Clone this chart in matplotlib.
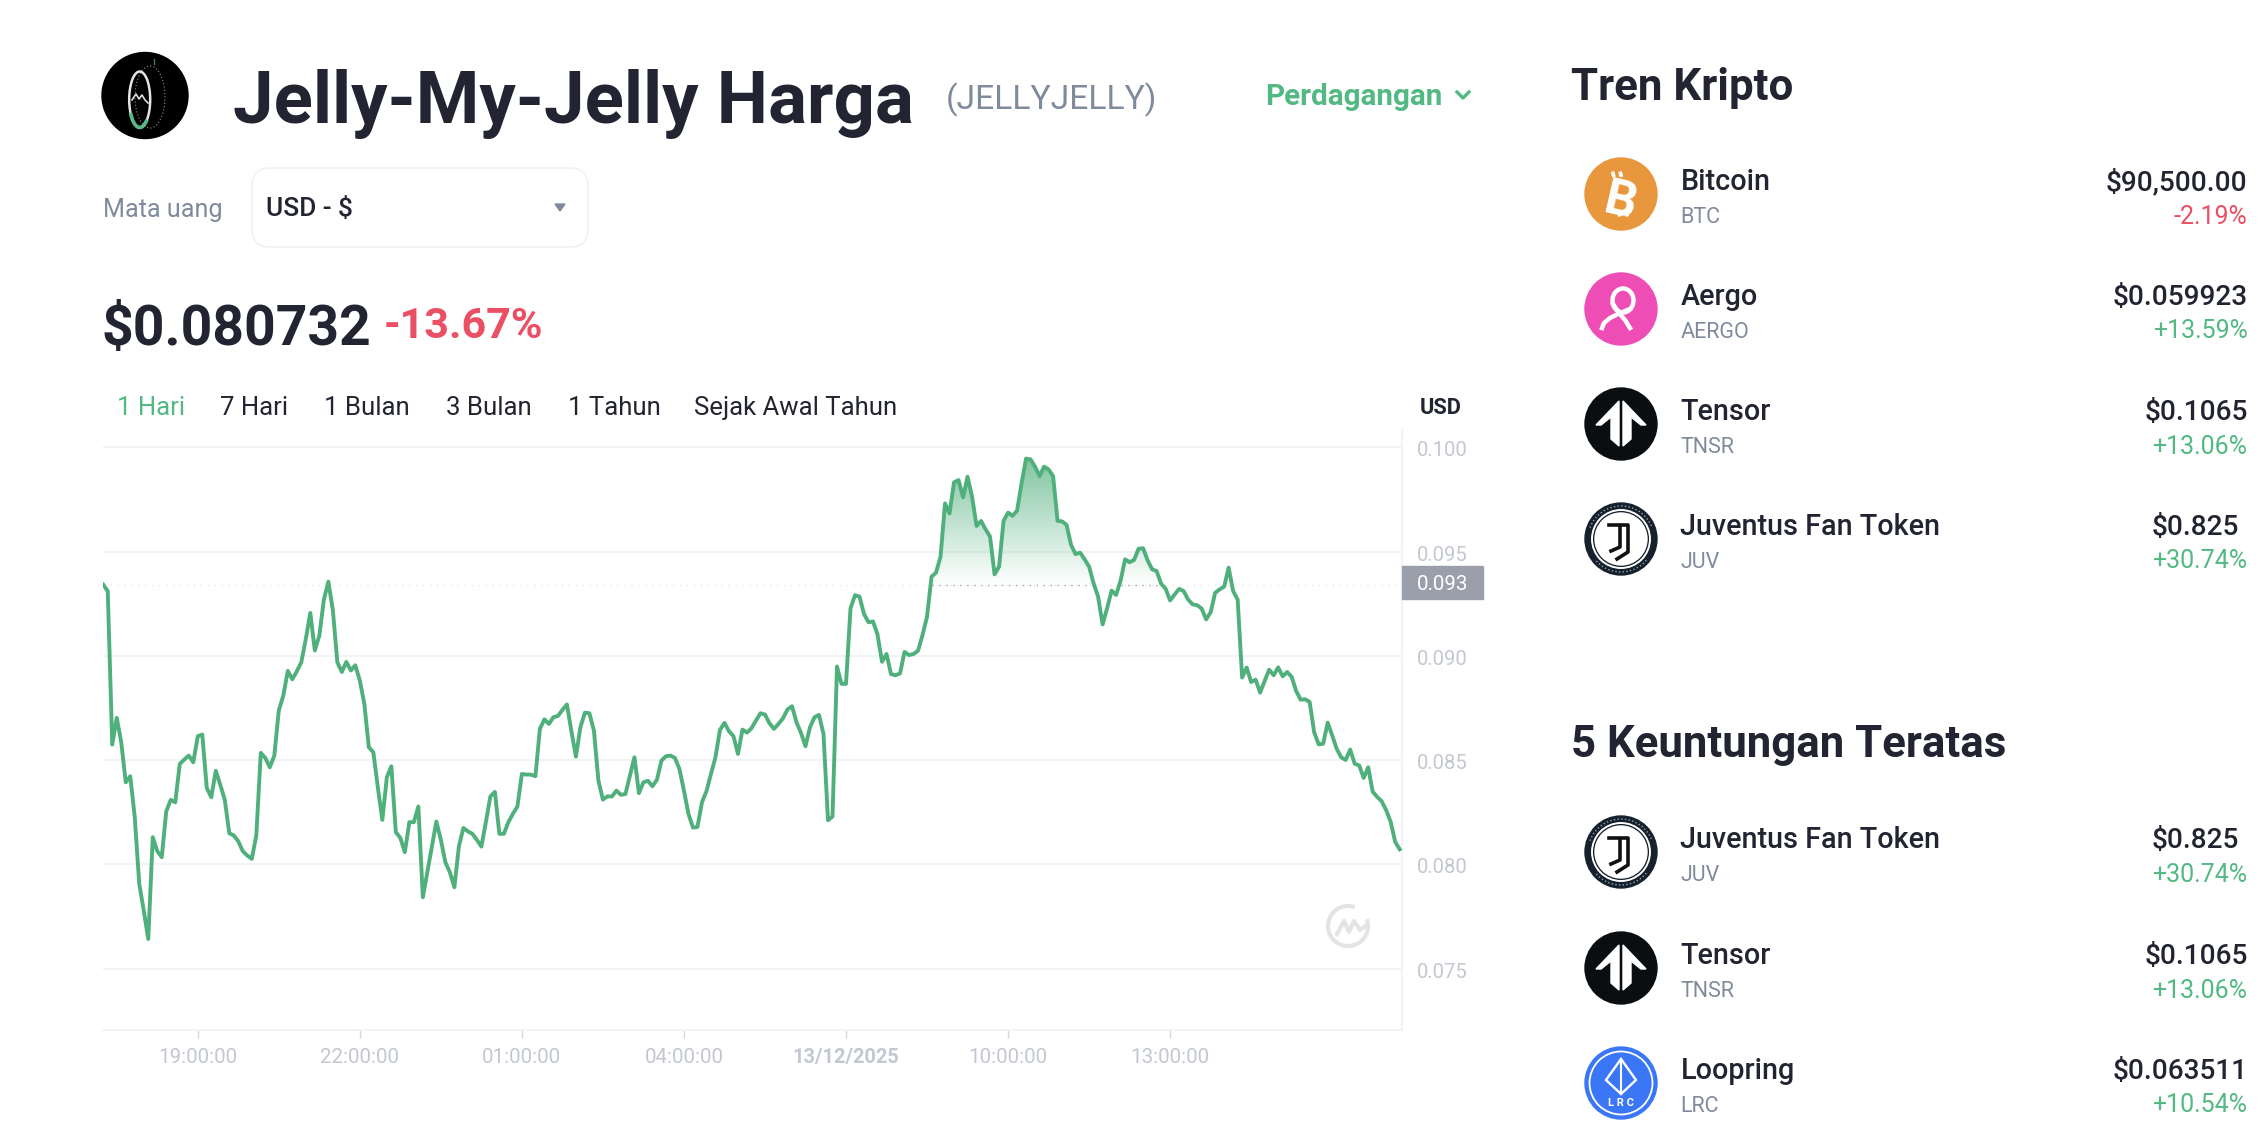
import numpy as np
import matplotlib
matplotlib.use("Agg")
import matplotlib.pyplot as plt
from matplotlib.patches import Circle, FancyBboxPatch, Polygon, Ellipse, Arc
from matplotlib.path import Path
from matplotlib.transforms import ScaledTranslation

plt.rcParams['font.family'] = ['Roboto', 'DejaVu Sans']

# ---- data ----
prices = np.array([
 9342,9310,8575,8703,8586,8394,8423,8227,7907,7779,7643,8131,8064,8035,8255,8310,8298,8482,8503,8522,8490,8615,8623,8367,8322,8449,8382,8310,8150,8139,8111,8064,8043,8027,8139,8535,8511,8466,8522,8738,8810,8928,8888,8926,8970,9081,9206,9026,9097,9268,9356,9221,8970,8923,8971,8930,8955,8882,
 8770,8562,8538,8370,8214,8418,8471,8155,8127,8059,8203,8203,8278,7843,7963,8083,8206,8118,8011,7963,7891,8086,8175,8159,8147,8118,8086,8203,8326,8348,8147,8147,8203,8243,8278,8434,8431,8431,8423,8650,8696,8674,8706,8712,8741,8767,8639,8517,8658,8728,8725,8642,8402,8311,8327,8326,8354,8334,
 8338,8426,8514,8342,8394,8401,8375,8406,8498,8519,8522,8511,8458,8354,8243,8177,8180,8298,8351,8434,8514,8645,8679,8639,8615,8530,8647,8632,8653,8690,8725,8719,8677,8650,8674,8701,8743,8759,8682,8631,8567,8658,8706,8717,8626,8212,8230,8949,8866,8866,9228,9291,9284,9201,9161,9165,9102,
 8972,9009,8913,8907,8916,9019,9004,9009,9025,9100,9188,9380,9399,9476,9731,9683,9832,9843,9760,9859,9763,9623,9647,9607,9572,9391,9428,9647,9687,9672,9696,9827,9946,9942,9907,9862,9907,9894,9862,9647,9645,9628,9532,9488,9495,9463,9428,9348,9284,9151,9228,9313,9292,9361,9463,9449,9460,9514,
 9516,9458,9415,9407,9346,9322,9266,9294,9321,9311,9270,9247,9243,9227,9175,9209,9302,9319,9332,9423,9311,9270,8896,8944,8875,8886,8824,8880,8934,8907,8945,8902,8923,8899,8832,8790,8792,8779,8634,8576,8579,8680,8619,8555,8514,8501,8551,8483,8475,8415,8466,8349,8324,8303,8260,8204,8108,8073,
]) / 1e5
start_hour = -1.75          # first sample, hours relative to 19:00
step_minutes = 5
hours = start_hour + np.arange(len(prices)) * step_minutes / 60
baseline = prices[0]

y_ticks = [0.100, 0.095, 0.090, 0.085, 0.080, 0.075]
x_ticks = [0, 3, 6, 9, 12, 15, 18]
x_labels = ['19:00:00', '22:00:00', '01:00:00', '04:00:00', '13/12/2025', '10:00:00', '13:00:00']
tabs = ['1 Hari', '7 Hari', '1 Bulan', '3 Bulan', '1 Tahun', 'Sejak Awal Tahun']
tab_x = [117, 220, 324, 446, 568, 694]

trend = [('Bitcoin', 'BTC', '$90,500.00', '-2.19%'),
         ('Aergo', 'AERGO', '$0.059923', '+13.59%'),
         ('Tensor', 'TNSR', '$0.1065', '+13.06%'),
         ('Juventus Fan Token', 'JUV', '$0.825', '+30.74%')]
gainers = [('Juventus Fan Token', 'JUV', '$0.825', '+30.74%'),
           ('Tensor', 'TNSR', '$0.1065', '+13.06%'),
           ('Loopring', 'LRC', '$0.063511', '+10.54%')]

# ---- colours ----
DARK = '#222531'; GREY = '#808A9D'; GREEN = '#53B983'; RED = '#EA4F63'
LINE = '#4FB07C'; GRID = '#EFF2F5'; AXT = '#C3C7D0'

W, H = 2268, 1136
fig = plt.figure(figsize=(W/100, H/100), dpi=100, facecolor='white')

# ---- chart ----
L, R, T, B = 102.7, 1401.5, 430, 1030
ax = fig.add_axes([L/W, 1-B/H, (R-L)/W, (B-T)/H])
ax.set_facecolor('none')
px_per_unit = 20860
ax.set_ylim(0.100-(B-447.3)/px_per_unit, 0.100+(447.3-T)/px_per_unit)
ax.set_xlim(start_hour-0.01, start_hour+(R-L-1)/54)
xl, yl = ax.get_xlim(), ax.get_ylim()

poly = ax.fill_between(hours, baseline, prices, where=prices > baseline, interpolate=True,
                       facecolor='none', edgecolor='none')
clip = Path.make_compound_path(*poly.get_paths())
grad = np.zeros((256, 1, 4))
grad[..., 0] = 0.31; grad[..., 1] = 0.69; grad[..., 2] = 0.49
grad[:, 0, 3] = np.linspace(0.72, 0.0, 256)
im = ax.imshow(grad, extent=(hours[0], hours[-1], baseline, prices.max()), origin='upper',
               aspect='auto', zorder=2, interpolation='bilinear')
im.set_clip_path(clip, ax.transData)

ax.plot(hours, prices, color=LINE, lw=2.8, zorder=4, solid_joinstyle='round')
ax.axhline(baseline, color='#E4E6EA', lw=1, dashes=(1, 4), zorder=1)
ax.plot(hours, np.where(prices > baseline, baseline, np.nan), color='#9A9FAB', lw=1,
        dashes=(1, 4), zorder=3)
ax.set_xlim(xl); ax.set_ylim(yl)

for s in ['top', 'left']:
    ax.spines[s].set_visible(False)
for s in ['right', 'bottom']:
    ax.spines[s].set_color(GRID); ax.spines[s].set_linewidth(1.2)
ax.set_yticks(y_ticks)
ax.set_yticklabels([f'{v:.3f}' for v in y_ticks])
ax.yaxis.tick_right()
ax.tick_params(axis='y', length=0, pad=11, labelsize=14.6, labelcolor=AXT)
ax.set_xticks(x_ticks)
ax.set_xticklabels(x_labels)
ax.tick_params(axis='x', length=6, width=1, color='#D5D9E0', pad=7, labelsize=14.8, labelcolor=AXT)
shift = ScaledTranslation(0, -1.5/100, fig.dpi_scale_trans)
for lab in ax.get_yticklabels():
    lab.set_transform(lab.get_transform() + shift)
for lab in ax.get_xticklabels():
    if '/' in lab.get_text():
        lab.set_fontweight('bold')
        lab.set_fontsize(14.4)
ax.grid(axis='y', color=GRID, lw=1.2, zorder=0)
ax.set_axisbelow(True)

# ---- page overlay in pixel coordinates ----
pg = fig.add_axes([0, 0, 1, 1], facecolor='none')
pg.set_xlim(0, W); pg.set_ylim(H, 0); pg.axis('off')

def T_(x, y, s, size, color=DARK, weight='normal', ha='left', va='baseline', **kw):
    return pg.text(x, y, s, fontsize=size, color=color, fontweight=weight, ha=ha, va=va, **kw)

# header
pg.add_patch(Circle((145, 95.5), 43, color='#000000', zorder=2))
pg.add_patch(Ellipse((139.7, 99.5), 21, 56, fill=False, ec='#E4E4E4', lw=1.8, zorder=3))
pg.add_patch(Ellipse((150, 97), 30, 62, fill=False, ec='#777777', lw=0.9, ls=':', zorder=2.5))
pg.plot([132, 136, 139, 142, 145, 148], [100, 94, 99, 95, 100, 103], color='#DDDDDD', lw=1.2, zorder=3)
pg.add_patch(Arc((139.7, 99.5), 21, 56, theta1=70, theta2=125, color='#59B98A', lw=2.6, zorder=4))
pg.plot([153.5, 153.5], [59, 64], color='#3F7F66', lw=1, zorder=3)
T_(233, 123, 'Jelly-My-Jelly Harga', 52.3, weight='bold')
T_(946, 109, '(JELLYJELLY)', 24.2, color=GREY)
T_(1265.5, 105, 'Perdagangan', 21.3, color=GREEN, weight='bold')
pg.plot([1457, 1463, 1469], [92, 98, 92], color=GREEN, lw=2.4)
T_(102.7, 216.7, 'Mata uang', 18.1, color=GREY)
pg.add_patch(FancyBboxPatch((266, 182), 308, 51, boxstyle='round,pad=14,rounding_size=18',
                            fc='white', ec='#EFF2F5', lw=1.2))
T_(266, 216, 'USD - $', 18.9, weight='medium')
pg.add_patch(Polygon([[555, 204], [565, 204], [560, 211]], color=GREY))
T_(102, 345, '$0.080732', 39.8, weight='bold')
T_(384, 338, '-13.67%', 31, color=RED, weight='bold')
for i, (s, x) in enumerate(zip(tabs, tab_x)):
    T_(x, 415, s, 18.5, color=GREEN if i == 0 else DARK)
T_(1420, 413.5, 'USD', 15.7, weight='bold')

# price badge
pg.add_patch(plt.Rectangle((1402, 565.7), 81, 33.5, color='#9A9FAB', zorder=5))
T_(1442.5, 584, f'{baseline:.3f}', 14.8, color='white', ha='center', va='center', zorder=6)

# watermark
wm = (1348, 926)
pg.add_patch(Arc(wm, 40, 40, theta1=-20, theta2=290, color='#E4E4E4', lw=3))
pg.plot([1337, 1344, 1349, 1354, 1360, 1367], [934, 921, 932, 921, 930, 925], color='#E4E4E4', lw=3)

# icons
def icon_btc(cx, cy):
    pg.add_patch(Circle((cx, cy), 36, color='#E9973D', zorder=2))
    T_(cx-0.5, cy+0.5, 'B', 36, color='white', weight='bold', ha='center', va='center_baseline',
       rotation=-13, zorder=3)
    for dx, sy in ((-1.5, -1), (6, -1), (-8, 1), (-0.5, 1)):
        x0 = cx + dx + sy*5.5
        y0 = cy + sy*17
        pg.plot([x0, x0 + sy*1.5], [y0, y0 + sy*5.5], color='white', lw=2.6, zorder=3, solid_capstyle='butt')

def icon_aergo(cx, cy):
    pg.add_patch(Circle((cx, cy), 36, color='#EE4DB5', zorder=2))
    pg.add_patch(Ellipse((cx+2, cy-8.5), 21, 24, fill=False, ec='white', lw=3.2, zorder=3))
    pg.plot([cx-8, cx-2, cx+4, cx+9], [cy-5, cy+4, cy+11, cy+19], color='white', lw=3.2, zorder=3)
    pg.plot([cx+9, cx-3, cx-11, cx-17, cx-19], [cy, cy+5, cy+9, cy+14, cy+19], color='white', lw=3.2, zorder=3)

def icon_tnsr(cx, cy):
    pg.add_patch(Circle((cx, cy), 36, color='#0B0E11', zorder=2))
    for sg in (-1, 1):
        pts = [(-2, -23), (-25, 1), (-20, 1), (-10, -7), (-10, 15), (-2, 22)]
        pg.add_patch(Polygon([(cx+sg*a, cy+b) for a, b in pts], color='white', zorder=3))

def icon_juv(cx, cy):
    pg.add_patch(Circle((cx, cy), 36, color='#16212E', zorder=2))
    pg.add_patch(Circle((cx, cy), 29, fc='#16212E', ec='white', lw=1.4, zorder=3))
    pg.add_patch(Circle((cx, cy), 26, color='white', zorder=3))
    pg.plot([cx-12, cx+7, cx+7, cx-4], [cy-14, cy-14, cy+13, cy+20], color='#111111', lw=2.6, zorder=4)
    pg.plot([cx-1, cx-1, cx-10], [cy-12, cy+8, cy+12], color='#111111', lw=2.6, zorder=4)
    pg.add_patch(Arc((cx, cy), 66, 66, theta1=200, theta2=340, color='#9AA3AD', lw=1.0, ls=':', zorder=4))
    pg.add_patch(Arc((cx, cy), 66, 66, theta1=40, theta2=140, color='#9AA3AD', lw=1.0, ls=':', zorder=4))

def icon_lrc(cx, cy):
    pg.add_patch(Circle((cx, cy), 36, color='#3B76F6', zorder=2))
    pg.add_patch(Circle((cx, cy), 31.5, fill=False, ec='white', lw=1.3, zorder=3))
    pg.add_patch(Polygon([(cx, cy-24), (cx-15, cy-3), (cx, cy+11), (cx+15, cy-3)], fill=False, ec='white', lw=1.7, zorder=3))
    pg.plot([cx, cx], [cy-24, cy+11], color='white', lw=1.5, zorder=3)
    T_(cx, cy+20, 'L R C', 8, color='white', ha='center', va='center', weight='bold', zorder=3)

icons = {'BTC': icon_btc, 'AERGO': icon_aergo, 'TNSR': icon_tnsr, 'JUV': icon_juv, 'LRC': icon_lrc}

def rows(items, centers):
    for (name, sym, price, pct), cy in zip(items, centers):
        icons[sym](1621, cy)
        T_(1680.5, cy-4, name, 20.7, weight='medium')
        T_(1680.5, cy+29, sym, 15.5, color=GREY)
        x_price = 2239 if price == '$0.825' else 2247.5
        T_(x_price, cy-4, price, 20.2, weight='medium', ha='right')
        T_(2247.5, cy+29.5, pct, 18, color=RED if pct[0] == '-' else GREEN, ha='right')

T_(1571, 100, 'Tren Kripto', 31.6, weight='bold')
rows(trend, [194, 309, 424, 539])
T_(1571, 757, '5 Keuntungan Teratas', 31.5, weight='bold')
rows(gainers, [852, 968, 1083])

fig.savefig('out.png', dpi=100)
